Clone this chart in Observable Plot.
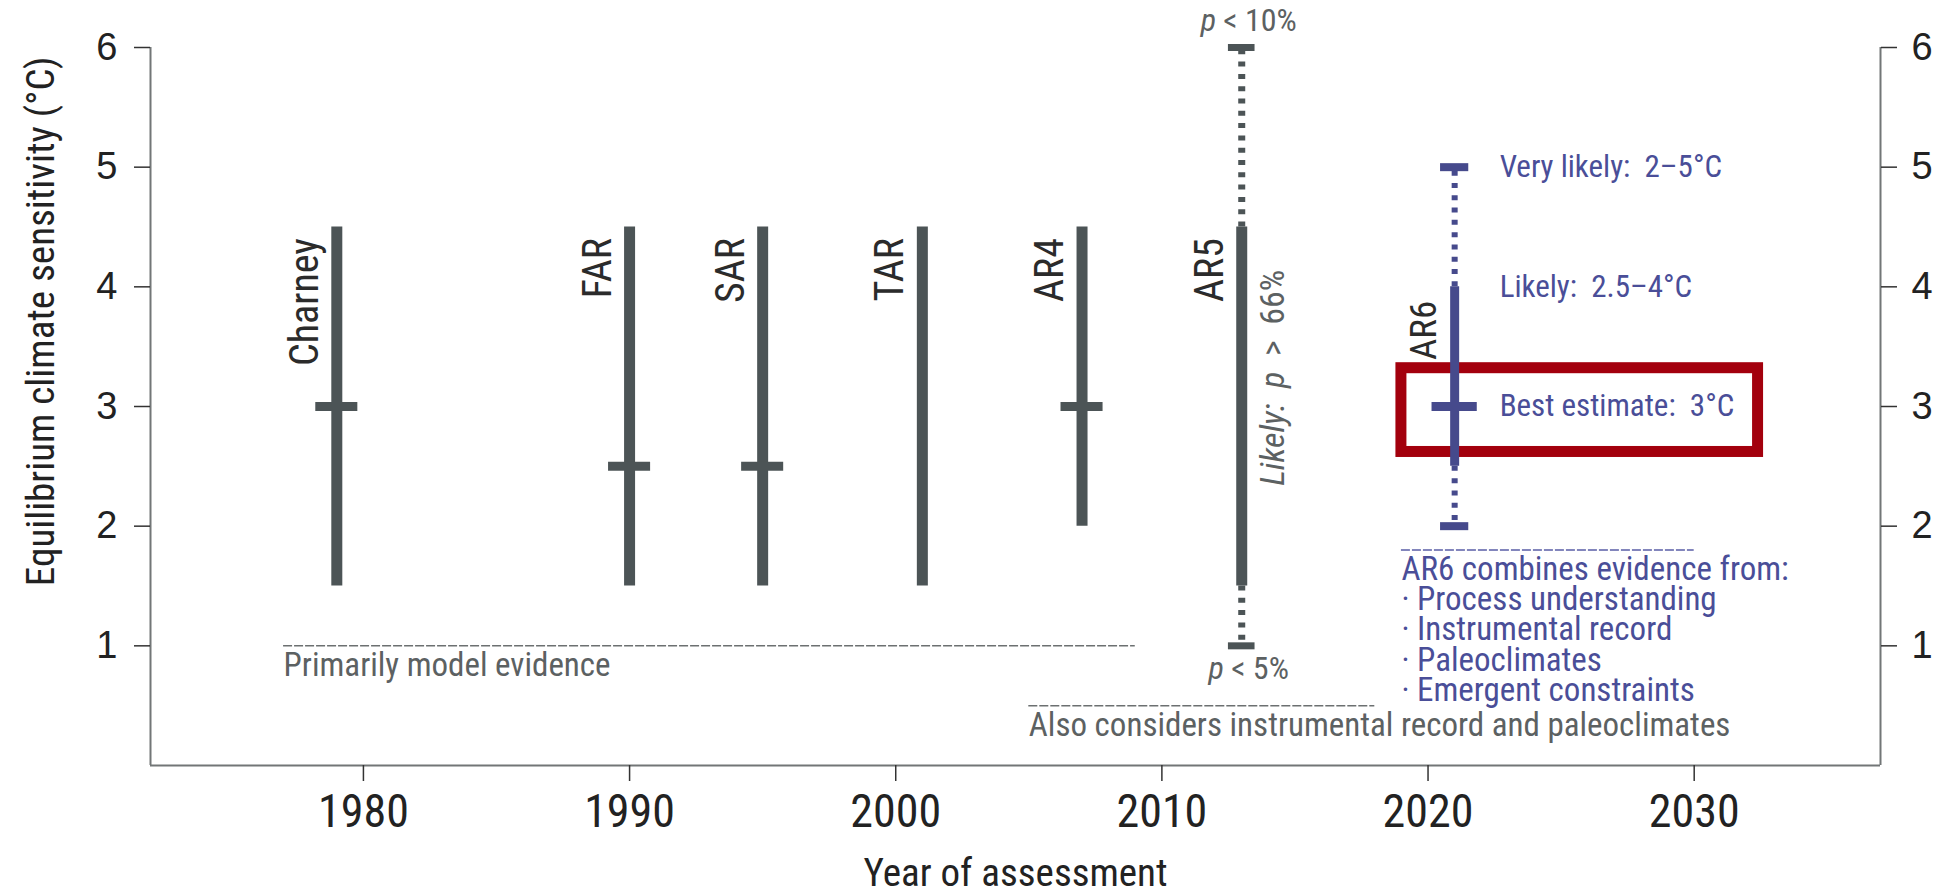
<!DOCTYPE html>
<html><head><meta charset="utf-8">
<script src="https://cdn.jsdelivr.net/npm/d3@7"></script>
<script src="https://cdn.jsdelivr.net/npm/@observablehq/plot@0.6"></script>
<style>
html,body{margin:0;padding:0;background:#fff;overflow:hidden}
</style></head><body><div id="chart"></div>
<script>
// ---- data ----
const names = ["Charney", "FAR", "SAR", "TAR", "AR4", "AR5", "AR6"];
const years = [1979, 1990, 1995, 2001, 2007, 2013, 2021];
const likelyLow = [1.5, 1.5, 1.5, 1.5, 2, 1.5, 2.5];
const likelyHigh = [4.5, 4.5, 4.5, 4.5, 4.5, 4.5, 4];
const bestEstimate = [3, 2.5, 2.5, null, 3, null, 3];
const veryLikelyLow = [null, null, null, null, null, 1, 2];
const veryLikelyHigh = [null, null, null, null, null, 6, 5];
const yTicks = [1, 2, 3, 4, 5, 6];
const xTicks = [1980, 1990, 2000, 2010, 2020, 2030];
const xDomain = [1972, 2037];
const yDomain = [0, 6];
const ar6RangeLabels = ["Very likely:  2–5°C", "Likely:  2.5–4°C", "Best estimate:  3°C"];
const ar6RangeValues = [5, 4, 3];
const evidenceLabels = [
  "Primarily model evidence",
  "Also considers instrumental record and paleoclimates",
  "AR6 combines evidence from:\n· Process understanding\n· Instrumental record\n· Paleoclimates\n· Emergent constraints"
];
const evidenceStart = [1977, 2005, 2019];
const evidenceEnd = [2009, 2018, 2030];
const evidenceLevel = [1, 0.5, 1.8];
const highlightBox = [{x1: 2019, x2: 2032.4, y1: 2.62, y2: 3.32}];
const probLabels = ["p < 10%", "p < 5%", "Likely:  p  >  66%"];
const yLabel = "Equilibrium climate sensitivity (°C)";
const xLabel = "Year of assessment";

// ---- styles ----
const NARROW = '"Liberation Sans Narrow", "Arial Narrow", "Roboto Condensed", "DejaVu Sans Condensed", sans-serif';
const REG = '"Liberation Sans", Arial, Helvetica, sans-serif';
const GRAY = "#4c5456";
const GRAY_TEXT = "#5c6162";
const BLUE = "#464a8c";
const BLUE_TEXT = "#4a4e98";
const RED = "#a3000d";
const AXIS = "#727677";

const rows = names.map((name, i) => ({
  name, year: years[i], lo: likelyLow[i], hi: likelyHigh[i],
  best: bestEstimate[i], vlo: veryLikelyLow[i], vhi: veryLikelyHigh[i]
}));
const grayRows = rows.filter(d => d.name !== "AR6");
const ar6Rows = rows.filter(d => d.name === "AR6");
const evidence = evidenceLabels.map((text, i) => ({text, x1: evidenceStart[i], x2: evidenceEnd[i], y: evidenceLevel[i], ar6: i === 2}));
const ar6Ranges = ar6RangeLabels.map((text, i) => ({text, y: ar6RangeValues[i], year: ar6Rows[0].year}));
const ar5 = rows.find(d => d.name === "AR5");

function assessmentMarks(data, color, o) {
  const wide = data.filter(d => d.vhi != null);
  return [
    Plot.ruleX(data, {x: "year", y1: "lo", y2: "hi", stroke: color, strokeWidth: o.barW}),
    Plot.ruleX(wide, {x: "year", y1: "hi", y2: "vhi", stroke: color, strokeWidth: o.dotW, strokeDasharray: "5,7.3"}),
    Plot.ruleX(wide, {x: "year", y1: "lo", y2: "vlo", stroke: color, strokeWidth: o.dotW, strokeDasharray: "5,7.3"}),
    Plot.ruleY(wide, {y: "vhi", x1: d => d.year - o.capHalf, x2: d => d.year + o.capHalf, stroke: color, strokeWidth: o.capW}),
    Plot.ruleY(wide, {y: "vlo", x1: d => d.year - o.capHalf, x2: d => d.year + o.capHalf, stroke: color, strokeWidth: o.capW}),
    Plot.ruleY(data.filter(d => d.best != null), {y: "best", x1: d => d.year - o.crossHalf, x2: d => d.year + o.crossHalf, stroke: color, strokeWidth: 9}),
    Plot.text(data, {x: "year", y: "hi", text: "name", rotate: -90, textAnchor: "end", lineAnchor: "bottom", dx: -19, dy: o.labelDy, fontSize: o.labelSize, fontFamily: NARROW, fill: "#2b2b2b"})
  ];
}

const svg = Plot.plot({
  width: 1937,
  height: 896,
  marginLeft: 150,
  marginRight: 57,
  marginTop: 47,
  marginBottom: 131,
  style: {fontFamily: REG, color: "#222", background: "#fff", overflow: "visible"},
  x: {domain: xDomain},
  y: {domain: yDomain},
  marks: [
    // frame (no top side)
    Plot.ruleX([xDomain[0], xDomain[1]], {y1: yDomain[0], y2: yDomain[1], stroke: AXIS, strokeWidth: 2}),
    Plot.ruleY([yDomain[0]], {x1: xDomain[0], x2: xDomain[1], stroke: AXIS, strokeWidth: 2}),
    Plot.axisY({ticks: yTicks, anchor: "left", tickSize: 16, tickPadding: 17, fontSize: 38, fontFamily: REG, tickFormat: "d", label: null, stroke: "#333", strokeWidth: 1.5}),
    Plot.axisY({ticks: yTicks, anchor: "right", tickSize: 16, tickPadding: 15, fontSize: 38, fontFamily: REG, tickFormat: "d", label: null, stroke: "#333", strokeWidth: 1.5}),
    Plot.axisX({ticks: xTicks, anchor: "bottom", tickSize: 16, tickPadding: 13, fontSize: 46, fontFamily: NARROW, tickFormat: "d", label: null, stroke: "#333", strokeWidth: 1.5}),
    // axis titles
    Plot.text([yLabel], {frameAnchor: "top-left", text: d => d, rotate: -90, textAnchor: "end", lineAnchor: "bottom", dx: -97, dy: 9, fontSize: 39, fontFamily: NARROW, fill: "#222"}),
    Plot.text([xLabel], {frameAnchor: "bottom", text: d => d, lineAnchor: "bottom", dy: 120, fontSize: 39, fontFamily: NARROW, fill: "#222"}),
    // highlight box
    Plot.rect(highlightBox, {x1: "x1", x2: "x2", y1: "y1", y2: "y2", fill: "none", stroke: RED, strokeWidth: 11}),
    // evidence lines & text
    Plot.ruleY(evidence, {y: "y", x1: "x1", x2: "x2", stroke: d => d.ar6 ? "#5a5ea6" : "#6c7071", strokeWidth: 1.5, strokeDasharray: "9,2"}),
    Plot.text(evidence, {x: "x1", y: "y", text: "text", textAnchor: "start", lineAnchor: "top", dy: 9, lineHeight: 0.91, fontSize: 33, fontFamily: NARROW, fill: d => d.ar6 ? BLUE_TEXT : GRAY_TEXT}),
    // assessments
    ...assessmentMarks(grayRows, GRAY, {barW: 11, dotW: 7, capHalf: 0.5, capW: 7, crossHalf: 0.79, labelDy: 11, labelSize: 40}),
    ...assessmentMarks(ar6Rows, BLUE, {barW: 9, dotW: 6, capHalf: 0.53, capW: 8, crossHalf: 0.85, labelDy: 14, labelSize: 37}),
    // AR6 range annotations
    Plot.text(ar6Ranges, {x: "year", y: "y", text: "text", textAnchor: "start", lineAnchor: "middle", dx: 45, fontSize: 31, fontFamily: NARROW, fill: BLUE_TEXT}),
    // AR5 probability annotations
    Plot.text([{t: probLabels[0], x: ar5.year, y: ar5.vhi}], {x: "x", y: "y", text: "t", textAnchor: "middle", lineAnchor: "bottom", dx: 7, dy: -17, fontSize: 32, fontFamily: NARROW, fill: GRAY_TEXT}),
    Plot.text([{t: probLabels[1], x: ar5.year, y: ar5.vlo}], {x: "x", y: "y", text: "t", textAnchor: "middle", lineAnchor: "top", dx: 7, dy: 10, fontSize: 32, fontFamily: NARROW, fill: GRAY_TEXT}),
    Plot.text([{t: probLabels[2], x: ar5.year, y: (ar5.lo + ar5.hi) / 2 + 0.24}], {x: "x", y: "y", text: "t", rotate: -90, textAnchor: "middle", lineAnchor: "bottom", dx: 42, fontSize: 34, fontFamily: NARROW, fill: GRAY_TEXT})
  ]
});

// italic "p" and "Likely:"
d3.select(svg).selectAll("text").each(function() {
  const t = this.textContent;
  if (t === probLabels[0] || t === probLabels[1]) {
    const sel = d3.select(this); sel.text(null);
    sel.append("tspan").attr("font-style", "italic").text("p");
    sel.append("tspan").text(t.slice(1));
  } else if (t === probLabels[2]) {
    const sel = d3.select(this); sel.text(null);
    sel.append("tspan").attr("font-style", "italic").text("Likely:  p");
    sel.append("tspan").text("  >  66%");
  }
});

document.getElementById("chart").appendChild(svg);
</script></body></html>
